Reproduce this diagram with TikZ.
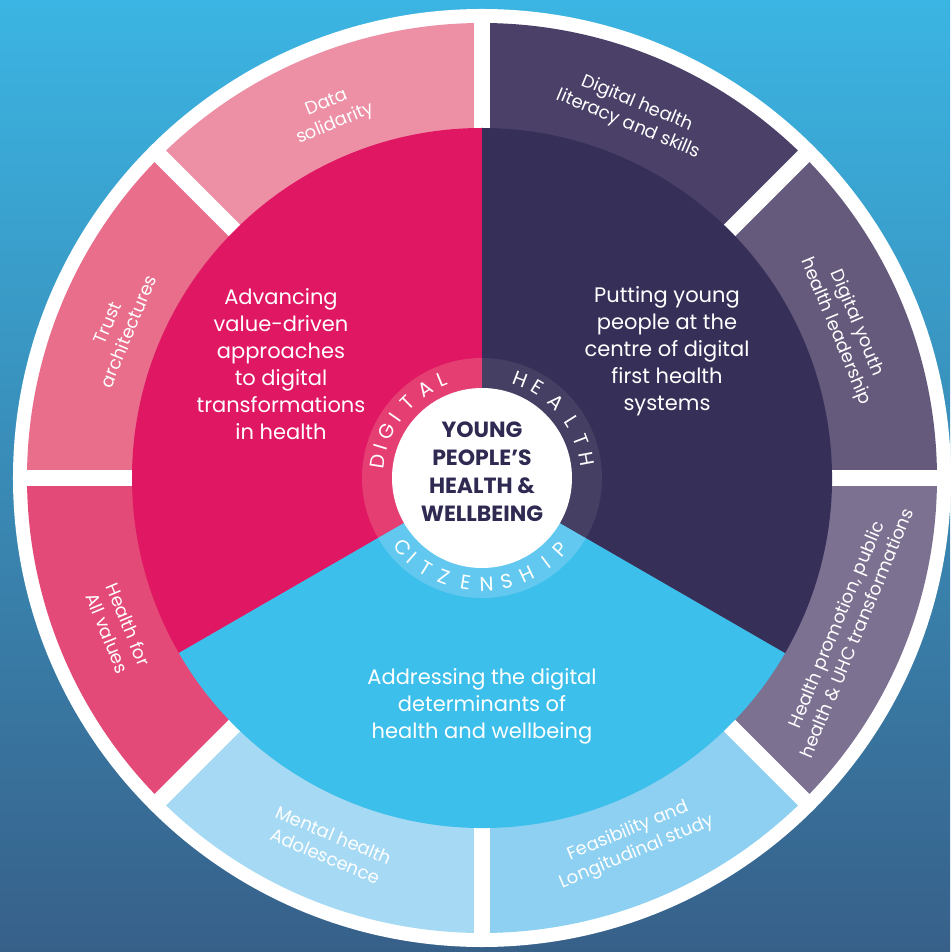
\documentclass[tikz,border=0pt]{standalone}
\usepackage{fontspec}
\setmainfont{Poppins}
\definecolor{bgtop}{HTML}{3BB5E3}
\definecolor{bgbot}{HTML}{376089}
\definecolor{segA}{HTML}{ED90A5}
\definecolor{segB}{HTML}{E86E8C}
\definecolor{segC}{HTML}{E44A78}
\definecolor{segD}{HTML}{A6DAF4}
\definecolor{segE}{HTML}{8DD0F2}
\definecolor{segF}{HTML}{7D7192}
\definecolor{segG}{HTML}{655A7C}
\definecolor{segH}{HTML}{4A4068}
\definecolor{mainM}{HTML}{E01763}
\definecolor{mainP}{HTML}{362F58}
\definecolor{mainB}{HTML}{3CBFEA}
\definecolor{ringM}{HTML}{E43E73}
\definecolor{ringP}{HTML}{463F64}
\definecolor{ringB}{HTML}{62C8EF}
\definecolor{titlec}{HTML}{2F2A52}
\tikzset{
  maintext/.style={text=white,align=center,font=\fontsize{21}{27}\selectfont,inner sep=0pt},
  seglabel/.style={text=white,align=center,font=\fontsize{18}{22.5}\selectfont,inner sep=0pt},
  ringletter/.style={text=white,font=\fontsize{20}{20}\selectfont,inner sep=0pt},
  titletext/.style={text=titlec,align=center,font=\fontsize{22}{28}\selectfont\bfseries,inner sep=0pt},
  gapline/.style={white,line width=16pt}
}
\begin{document}
\begin{tikzpicture}[x=1pt,y=1pt]
\useasboundingbox (-482,-474) rectangle (468,478);
\shade[top color=bgtop,bottom color=bgbot] (-482,-474) rectangle (468,478);
% outer white disc
\fill[white] (0,0) circle (469);
% outer segments
\foreach \s/\c in {90/segA,135/segB,180/segC,225/segD,270/segE,315/segF,0/segG,45/segH}{
  \fill[\c] (0,0) -- (\s:455) arc[start angle=\s,delta angle=45,radius=455] -- cycle;
}
% gaps
\foreach \g in {0,45,...,315}{
  \draw[gapline] (0,0) -- (\g:462);
}
% main sectors
\fill[mainM] (0,0) -- (90:350) arc[start angle=90,end angle=210,radius=350] -- cycle;
\fill[mainB] (0,0) -- (210:350) arc[start angle=210,end angle=330,radius=350] -- cycle;
\fill[mainP] (0,0) -- (-30:350) arc[start angle=-30,end angle=90,radius=350] -- cycle;
% inner ring
\fill[ringM] (0,0) -- (90:120) arc[start angle=90,end angle=210,radius=120] -- cycle;
\fill[ringB] (0,0) -- (210:120) arc[start angle=210,end angle=330,radius=120] -- cycle;
\fill[ringP] (0,0) -- (-30:120) arc[start angle=-30,end angle=90,radius=120] -- cycle;
\fill[white] (0,0) circle (90);
% centre title
\node[titletext] (title) at (0,6) {YOUNG\\PEOPLE’S\\HEALTH \&\\WELLBEING};
% ring letters
\foreach \a/\l [count=\i] in {171/D,163/I,154/G,145/I,134.5/T,122.5/A,112/L}{
  \node[ringletter,rotate=\a-90] (dig\i) at (\a:106) {\l};
}
\foreach \a/\l [count=\i] in {69/H,58.6/E,45.7/A,32.3/L,20.9/T,10.5/H}{
  \node[ringletter,rotate=\a-90] (hea\i) at (\a:106) {\l};
}
\foreach \a/\l [count=\i] in {221.3/C,228.7/I,238.2/T,249.2/Z,261/E,272.5/N,283.4/S,295/H,307/I,317.3/P}{
  \node[ringletter,rotate=\a+90] (cit\i) at (\a:106) {\l};
}
% main texts
\node[maintext] (adv) at (-201,114) {Advancing\\value-driven\\approaches\\to digital\\transformations\\in health};
\node[maintext] (put) at (185,127) {Putting young\\people at the\\centre of digital\\first health\\systems};
\node[maintext] (add) at (0,-228) {Addressing the digital\\determinants of\\health and wellbeing};
% segment labels
\node[seglabel,rotate=22.5] (lab1) at (112.5:394) {Data\\solidarity};
\node[seglabel,rotate=-22.5] (lab2) at (67.5:394) {Digital health\\literacy and skills};
\node[seglabel,rotate=-67.5] (lab3) at (22.5:394) {Digital youth\\health leadership};
\node[seglabel,rotate=67.5] (lab4) at (-22.5:394) {Health promotion, public\\health \& UHC transformations};
\node[seglabel,rotate=22.5] (lab5) at (-67.5:394) {Feasibility and\\Longitudinal study};
\node[seglabel,rotate=-22.5] (lab6) at (247.5:398) {Mental health\\Adolescence};
\node[seglabel,rotate=-67.5] (lab7) at (202.5:394) {Health for\\All values};
\node[seglabel,rotate=67.5] (lab8) at (157.5:394) {Trust\\architectures};
\end{tikzpicture}
\end{document}
